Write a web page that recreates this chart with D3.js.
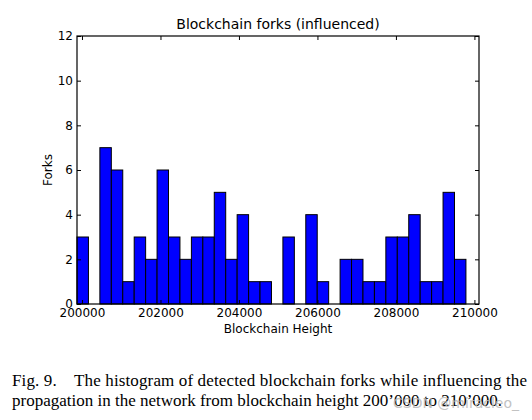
<!DOCTYPE html>
<html>
<head>
<meta charset="utf-8">
<script src="https://cdn.jsdelivr.net/npm/d3@7"></script>
<style>
body { margin: 0; background: #fff; }
.axis text { font: 12px "DejaVu Sans", sans-serif; fill: #000; }
.axis path, .axis line { stroke: #000; }
.caption { font-family: "Liberation Serif", "Times New Roman", serif; font-size: 17px; fill: #000; white-space: pre; }
</style>
</head>
<body>
<svg id="chart" width="532" height="420"></svg>
<script>
// forks per bin (34 bins)
var counts = [3, 0, 7, 6, 1, 3, 2, 6, 3, 2, 3, 3, 5, 2, 4, 1, 1,
              0, 3, 0, 4, 1, 0, 2, 2, 1, 1, 3, 3, 4, 1, 1, 5, 2];
var binStart = 199873, binWidth = 291.5;
var xTicks = [200000, 202000, 204000, 206000, 208000, 210000];
var yTicks = [0, 2, 4, 6, 8, 10, 12];
var captionLines = [
  "Fig. 9.    The histogram of detected blockchain forks while influencing the",
  "propagation in the network from blockchain height 200\u2019000 to 210\u2019000."
];

var margin = {top: 36, right: 53, bottom: 116, left: 77},
    width = 532 - margin.left - margin.right,
    height = 420 - margin.top - margin.bottom;

var x = d3.scaleLinear().domain([199873, 210117]).range([0, width]);
var y = d3.scaleLinear().domain([0, 12]).range([height, 0]);

var svg = d3.select("#chart");
var g = svg.append("g").attr("transform", "translate(" + margin.left + "," + margin.top + ")");

// one rect per non-empty bin
var bins = counts.map(function(c, i) {
  return {x0: binStart + i * binWidth, x1: binStart + (i + 1) * binWidth, n: c};
}).filter(function(b) { return b.n > 0; });

g.selectAll("rect.bar")
  .data(bins)
.enter().append("rect")
  .attr("class", "bar")
  .attr("x", function(d) { return x(d.x0); })
  .attr("y", function(d) { return y(d.n); })
  .attr("width", function(d) { return x(d.x1) - x(d.x0); })
  .attr("height", function(d) { return y(0) - y(d.n); })
  .attr("fill", "#0000ff")
  .attr("stroke", "#000")
  .attr("stroke-width", 1);

// inward ticks on all four sides
g.append("g").attr("class", "axis")
  .attr("transform", "translate(0," + height + ")")
  .call(d3.axisBottom(x).tickValues(xTicks).tickFormat(d3.format("d")).tickSizeInner(-4).tickSizeOuter(0).tickPadding(4))
  .call(function(s) { s.select(".domain").remove(); });
g.append("g").attr("class", "axis")
  .call(d3.axisTop(x).tickValues(xTicks).tickFormat("").tickSizeInner(-4).tickSizeOuter(0))
  .call(function(s) { s.select(".domain").remove(); });
g.append("g").attr("class", "axis")
  .call(d3.axisLeft(y).tickValues(yTicks).tickSizeInner(-4).tickSizeOuter(0).tickPadding(4))
  .call(function(s) { s.select(".domain").remove(); });
g.append("g").attr("class", "axis")
  .attr("transform", "translate(" + width + ",0)")
  .call(d3.axisRight(y).tickValues(yTicks).tickFormat("").tickSizeInner(-4).tickSizeOuter(0))
  .call(function(s) { s.select(".domain").remove(); });

g.append("rect")
  .attr("width", width).attr("height", height)
  .attr("fill", "none").attr("stroke", "#000").attr("stroke-width", 1.2);

g.append("text")
  .attr("x", width / 2).attr("y", -7)
  .attr("text-anchor", "middle")
  .style("font", "14px 'DejaVu Sans', sans-serif")
  .text("Blockchain forks (influenced)");

g.append("text")
  .attr("x", width / 2).attr("y", height + 29)
  .attr("text-anchor", "middle")
  .style("font", "12px 'DejaVu Sans', sans-serif")
  .text("Blockchain Height");

g.append("text")
  .attr("transform", "translate(-25," + height / 2 + ") rotate(-90)")
  .attr("text-anchor", "middle")
  .style("font", "12px 'DejaVu Sans', sans-serif")
  .text("Forks");

svg.append("text").attr("class", "caption")
  .attr("x", 12).attr("y", 386)
  .attr("textLength", 515).attr("lengthAdjust", "spacing")
  .text(captionLines[0]);
svg.append("text").attr("class", "caption")
  .attr("x", 12).attr("y", 406)
  .text(captionLines[1]);

svg.append("text")
  .attr("x", 393).attr("y", 408)
  .style("font", "14px 'DejaVu Sans', sans-serif")
  .attr("fill", "#b8b8b8")
  .attr("opacity", 0.85)
  .text("CSDN @miracleo_");
</script>
</body>
</html>
